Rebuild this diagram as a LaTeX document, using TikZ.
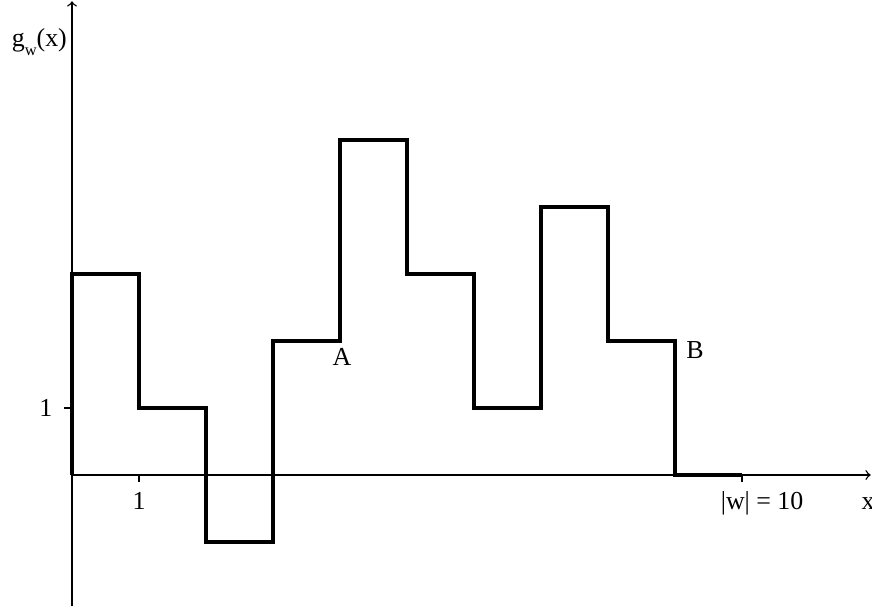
\documentclass[tikz,border=0pt]{standalone}
\usepackage{fontspec}
\setmainfont{Liberation Serif}
\usepackage{tikz}
\usetikzlibrary{arrows,positioning}
\tikzset{axis/.style={semithick,->,>=to},
  graphline/.style={line width=1.3pt,line join=miter},
  lbl/.style={font=\fontsize{11}{13}\selectfont, inner sep=0pt}}

\begin{document}
\begin{tikzpicture}
\useasboundingbox (-1.075,-1.955) rectangle (11.94,7.09);
% Axes
\draw[axis] (0,-1.955) -- (0,7.07);
\draw[axis] (0,0) -- (11.92,0);
\draw[semithick] (1,0) -- (1,-0.1);
\draw[semithick] (10,0) -- (10,-0.1);
\draw[semithick] (-0.12,1) -- (0,1);

\node[lbl, anchor=base east] (gw) at (-0.07,6.39)
  {g\raisebox{-0.7ex}{\fontsize{7}{8}\selectfont w}(x)};
\node[lbl, anchor=base] (xl) at (11.88,-0.52) {x};
\node[lbl] (one x) at (1,-0.39) {1};
\node[lbl] (one y) at (-0.39,1) {1};
\node[lbl, anchor=base] (wl) at (10.3,-0.51) {|w| = 10};

% Step function
\draw[graphline] (0,0) -- (0,3) -- (1,3) -- (1,1) -- (2,1) -- (2,-1)
  -- (3,-1) -- (3,2) -- (4,2) -- (4,5) -- (5,5) -- (5,3) -- (6,3)
  -- (6,1) -- (7,1) -- (7,4) -- (8,4) -- (8,2) -- (9,2) -- (9,0) -- (10,0);

\node[lbl] (A) at (4.03,1.76) {A};
\node[lbl] (B) at (9.3,1.87) {B};
\end{tikzpicture}
\end{document}
